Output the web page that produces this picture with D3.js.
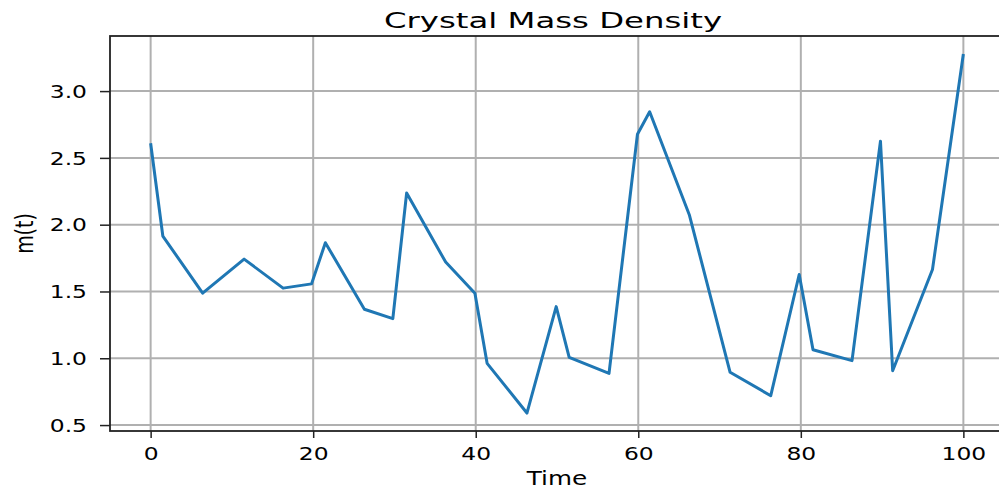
<!DOCTYPE html>
<html>
<head>
<meta charset="utf-8">
<script src="https://cdn.jsdelivr.net/npm/d3@7"></script>
<style>
  body { margin: 0; background: #fff; }
  svg { display: block; }
  text { font-family: "DejaVu Sans", sans-serif; fill: #000; }
</style>
</head>
<body>
<svg width="999" height="489"></svg>
<script>
// readings
var times = [0, 1.5, 6.4, 11.5, 16.3, 19.8, 21.5, 26.3, 29.8, 31.5, 36.3, 39.9, 41.4, 46.3,
             49.9, 51.5, 56.4, 59.9, 61.4, 66.3, 71.3, 76.3, 79.8, 81.5, 86.3, 89.8, 91.3, 96.2, 100];
var mass = [2.61, 1.915, 1.487, 1.742, 1.525, 1.557, 1.865, 1.367, 1.297, 2.237, 1.72, 1.487, 0.962, 0.59,
            1.387, 1.007, 0.887, 2.677, 2.845, 2.07, 0.895, 0.72, 1.627, 1.064, 0.982, 2.625, 0.907, 1.665, 3.278];
var xTicks = [0, 20, 40, 60, 80, 100];
var yTicks = [0.5, 1.0, 1.5, 2.0, 2.5, 3.0];
var title = "Crystal Mass Density";
var xLabel = "Time";
var yLabel = "m(t)";

var svg = d3.select("svg");
var plotL = 110, plotR = 1004, plotT = 36, plotB = 431;
var sx = 1.3; // the picture is stretched sideways

var tExt = d3.extent(times), mExt = d3.extent(mass);
var tPad = (tExt[1] - tExt[0]) * 0.05, mPad = (mExt[1] - mExt[0]) * 0.05;

var x = d3.scaleLinear().domain([tExt[0] - tPad, tExt[1] + tPad]).range([plotL, plotR]);
var y = d3.scaleLinear().domain([mExt[0] - mPad, mExt[1] + mPad]).range([plotB, plotT]);

// grid
svg.append("g").selectAll("line").data(xTicks).enter().append("line")
    .attr("x1", function(d) { return x(d); }).attr("x2", function(d) { return x(d); })
    .attr("y1", plotT).attr("y2", plotB)
    .attr("stroke", "#b0b0b0").attr("stroke-width", 2);
svg.append("g").selectAll("line").data(yTicks).enter().append("line")
    .attr("y1", function(d) { return y(d); }).attr("y2", function(d) { return y(d); })
    .attr("x1", plotL).attr("x2", plotR)
    .attr("stroke", "#b0b0b0").attr("stroke-width", 2);

// the series
var line = d3.line()
    .x(function(d, i) { return x(times[i]); })
    .y(function(d) { return y(d); });
svg.append("path").datum(mass)
    .attr("d", line)
    .attr("fill", "none")
    .attr("stroke", "#1f77b4")
    .attr("stroke-width", 3)
    .attr("stroke-linejoin", "round");

// axes
var xAxis = svg.append("g").attr("transform", "translate(0," + plotB + ")")
    .call(d3.axisBottom(x).tickValues(xTicks).tickSize(7).tickPadding(0).tickFormat(d3.format("d")));
var yAxis = svg.append("g").attr("transform", "translate(" + plotL + ",0)")
    .call(d3.axisLeft(y).tickValues(yTicks).tickSize(10).tickPadding(0).tickFormat(d3.format(".1f")));

[xAxis, yAxis].forEach(function(g) {
    g.select(".domain").remove();
    g.selectAll(".tick line").attr("stroke", "#222").attr("stroke-width", 1.5);
    g.selectAll(".tick text").attr("font-family", "DejaVu Sans").attr("font-size", 18).attr("fill", "#111");
});
xAxis.selectAll(".tick text").attr("y", 0).attr("dy", 0)
    .attr("transform", "translate(0,29) scale(" + sx + ",1)");
yAxis.selectAll(".tick text").attr("x", 0).attr("dy", "0.35em")
    .attr("transform", "translate(-23,0) scale(" + sx + ",1)");

// frame
svg.append("rect")
    .attr("x", plotL).attr("y", plotT)
    .attr("width", plotR - plotL).attr("height", plotB - plotT)
    .attr("fill", "none").attr("stroke", "#222").attr("stroke-width", 1.8);

// labels
svg.append("text")
    .attr("transform", "translate(" + ((plotL + plotR) / 2 - 4) + ",28) scale(1.47,1)")
    .attr("text-anchor", "middle").attr("font-size", 22)
    .text(title);
svg.append("text")
    .attr("transform", "translate(" + ((plotL + plotR) / 2) + ",485) scale(" + sx + ",1)")
    .attr("text-anchor", "middle").attr("font-size", 19)
    .text(xLabel);
svg.append("text")
    .attr("transform", "translate(33," + ((plotT + plotB) / 2) + ") scale(" + sx + ",1) rotate(-90)")
    .attr("text-anchor", "middle").attr("font-size", 19)
    .text(yLabel);
</script>
</body>
</html>
